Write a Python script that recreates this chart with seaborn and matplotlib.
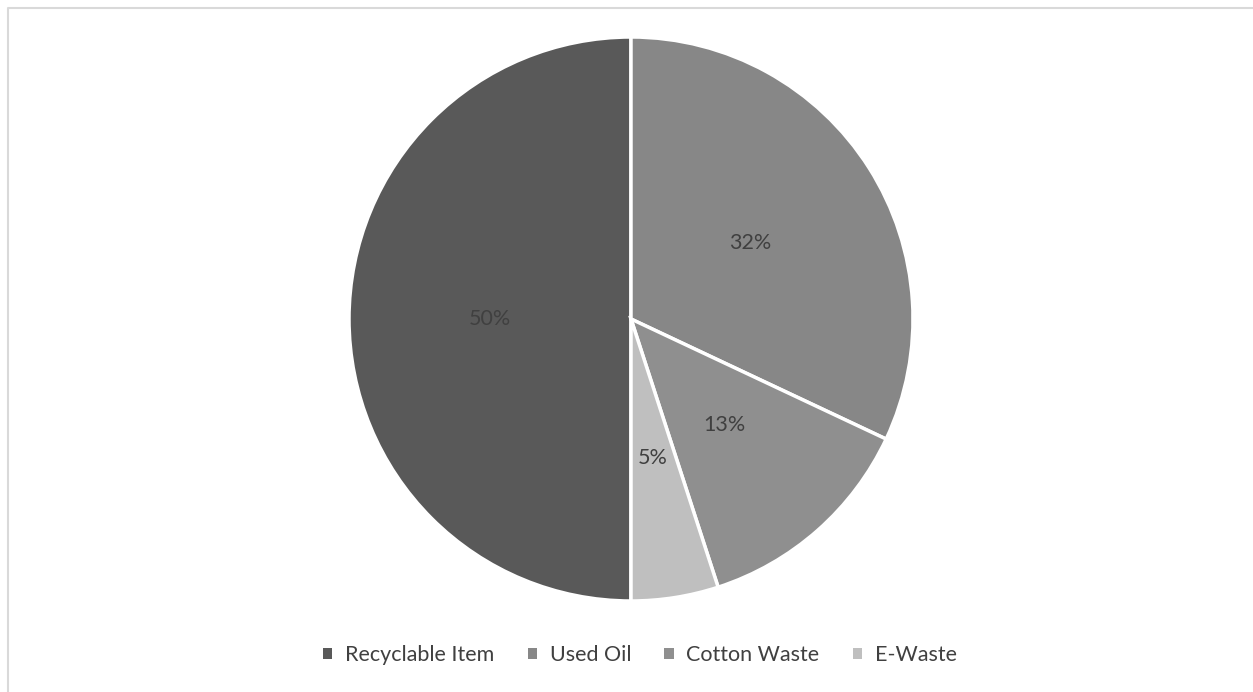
import matplotlib
matplotlib.use("Agg")
import matplotlib.pyplot as plt
from matplotlib.lines import Line2D
from matplotlib.patches import Patch
import seaborn as sns

categories = ["Recyclable Item", "Used Oil", "Cotton Waste", "E-Waste"]
shares = [50, 32, 13, 5]
colors = ["#595959", "#878787", "#8f8f8f", "#bfbfbf"]

sns.set_theme(style="white")
plt.rcParams["font.family"] = ["Lato", "DejaVu Sans"]

W, H = 1253, 692
fig = plt.figure(figsize=(W / 100, H / 100), dpi=100)

# pie centre and radius in pixels
cx, cy, r = 631, 319, 282
half = r * 1.02
ax = fig.add_axes([(cx - half) / W, (H - cy - half) / H, 2 * half / W, 2 * half / H])

wedges, texts, autotexts = ax.pie(
    shares,
    colors=colors,
    startangle=-90,
    counterclock=False,
    autopct="%d%%",
    pctdistance=0.5,
    wedgeprops=dict(edgecolor="white", linewidth=2.5),
    textprops=dict(color="#404040", fontsize=15.5),
)
ax.set_xlim(-1.02, 1.02)
ax.set_ylim(-1.02, 1.02)
ax.set_aspect("equal")
ax.axis("off")

handles = [Patch(facecolor=c, edgecolor="none") for c in colors]
fig.legend(
    handles, categories,
    loc="center", bbox_to_anchor=(640 / W, 1 - 655 / H),
    ncol=4, frameon=False, fontsize=15.5,
    handlelength=0.42, handleheight=0.42, handletextpad=0.6,
    columnspacing=1.55, labelcolor="#404040",
)

# light chart-area border (top and left edges)
bx, by = 7.5 / W, 1 - 7.5 / H
fig.add_artist(Line2D([bx, bx, 1.0], [0.0, by, by], transform=fig.transFigure,
                      color="#d9d9d9", linewidth=1.5))

fig.savefig("out.png", dpi=100, facecolor="white")
